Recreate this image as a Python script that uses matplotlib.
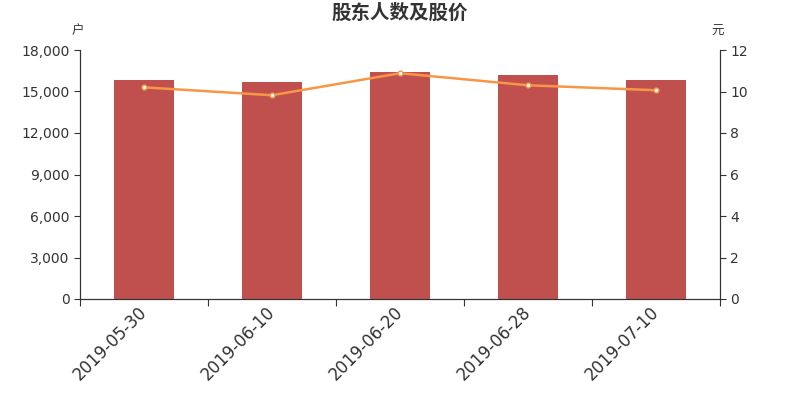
import matplotlib
matplotlib.use("Agg")
import matplotlib.pyplot as plt
import matplotlib.transforms as mtransforms
from matplotlib.ticker import FuncFormatter
import numpy as np

plt.rcParams['font.family'] = ['Noto Sans CJK SC', 'DejaVu Sans']

# --- Data ---
dates = ["2019-05-30", "2019-06-10", "2019-06-20", "2019-06-28", "2019-07-10"]
holders = [15830, 15720, 16410, 16180, 15830]
price = [10.20, 9.82, 10.88, 10.30, 10.06]

bar_color = "#c0504d"
line_color = "#f79646"
axis_color = "#333333"

fig = plt.figure(figsize=(8, 4), dpi=100)
ax = fig.add_axes([0.10, 0.2525, 0.80, 0.6225])
ax2 = ax.twinx()

x = np.arange(len(dates))
ax.bar(x, holders, width=0.47, color=bar_color, zorder=2)
ax2.plot(x, price, color=line_color, linewidth=1.8, marker='o', markersize=3.5,
         markerfacecolor='white', markeredgecolor=line_color, markeredgewidth=1, zorder=3)

ax.set_xlim(-0.5, len(dates) - 0.5)
ax.set_ylim(0, 18000)
ax.set_yticks(np.arange(0, 18001, 3000))
ax.yaxis.set_major_formatter(FuncFormatter(lambda v, p: f"{int(v):,}"))
ax2.set_ylim(0, 12)
ax2.set_yticks(np.arange(0, 13, 2))

# tick marks at category boundaries, labels at centers
ax.set_xticks(np.arange(-0.5, len(dates), 1.0))
ax.set_xticklabels([])
ax.set_xticks(x, minor=True)
ax.set_xticklabels(dates, minor=True, rotation=45, ha='right', rotation_mode='anchor',
                   fontsize=12, color=axis_color, family='DejaVu Sans')
ax.tick_params(axis='x', which='minor', length=0, pad=3)
ax.tick_params(axis='x', which='major', length=5, color=axis_color)
shift = mtransforms.ScaledTranslation(-6 / 100, 0, fig.dpi_scale_trans)
for lbl in ax.get_xticklabels(minor=True):
    lbl.set_transform(lbl.get_transform() + shift)

for a in (ax, ax2):
    a.spines['top'].set_visible(False)
    for s in ('left', 'right', 'bottom'):
        a.spines[s].set_color(axis_color)
    a.tick_params(axis='y', labelsize=10, colors=axis_color, length=4)
    for lbl in a.get_yticklabels():
        lbl.set_family('DejaVu Sans')

ax.text(-0.003, 1.05, "户", transform=ax.transAxes, ha='center', va='bottom',
        fontsize=9, color=axis_color)
ax2.text(0.997, 1.05, "元", transform=ax2.transAxes, ha='center', va='bottom',
         fontsize=9, color=axis_color)

fig.suptitle("股东人数及股价", x=0.5, y=0.99, fontsize=14, fontweight='bold', color=axis_color)

fig.savefig("out.png", dpi=100)
